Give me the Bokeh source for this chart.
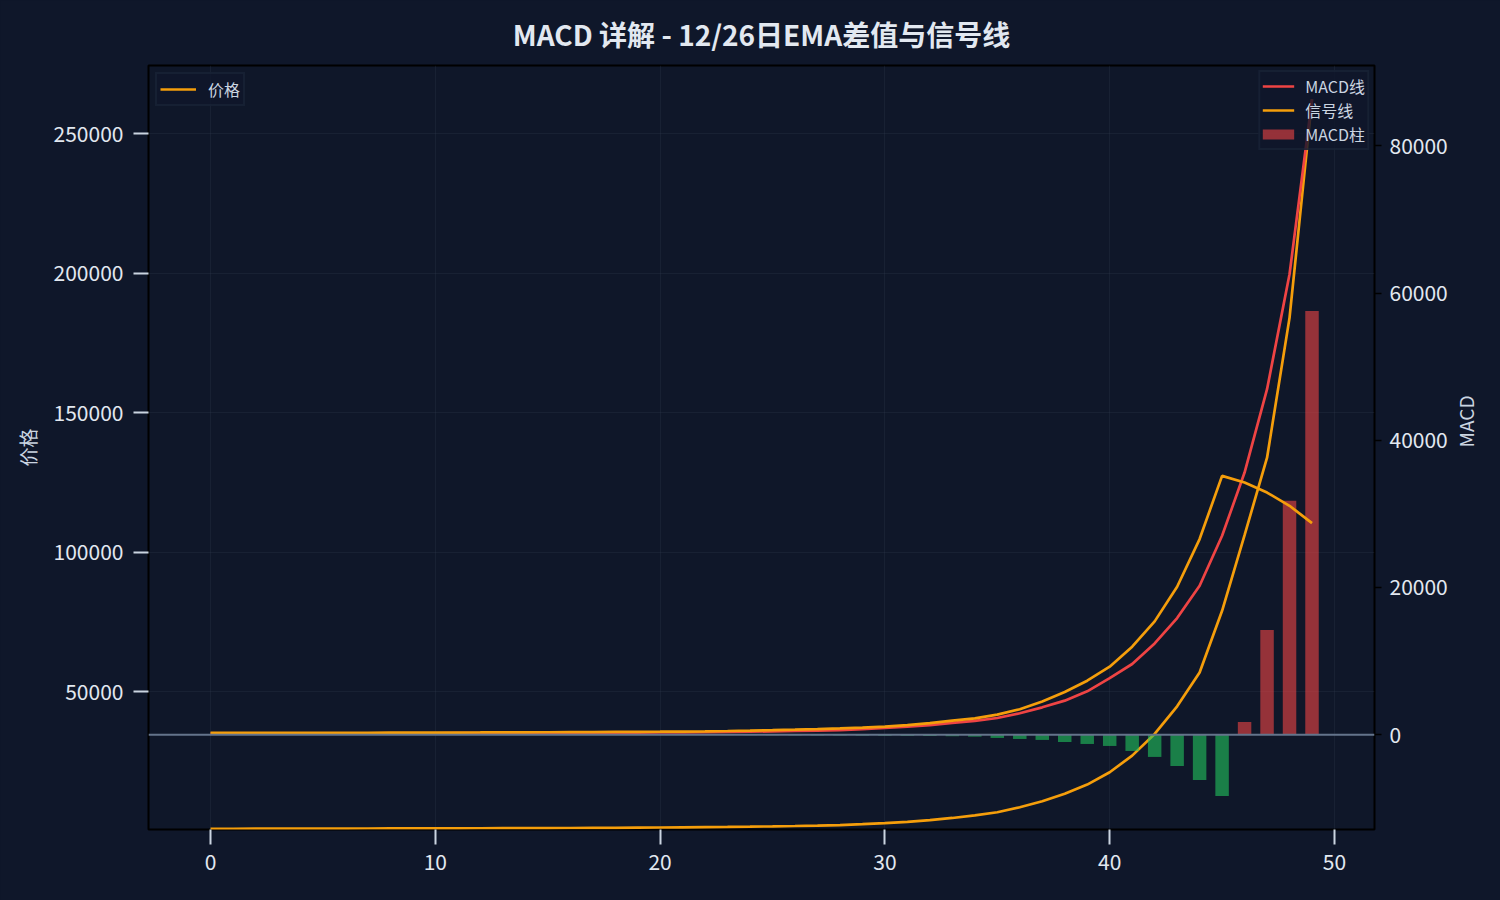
import math
import numpy as np
from bokeh.plotting import figure
from bokeh.models import (ColumnDataSource, Range1d, LinearAxis, FixedTicker,
                          BasicTickFormatter, Span, Legend, LegendItem,
                          GlobalInlineStyleSheet)
from bokeh.embed import file_html
from bokeh.resources import INLINE

# ---------------- data ----------------
days = list(range(50))

price = [967, 985, 1000, 1015, 1030, 1045, 1060, 1075, 1090, 1105,
         1120, 1140, 1160, 1180, 1205, 1230, 1260, 1295, 1335, 1380,
         1430, 1490, 1560, 1640, 1730, 1840, 1970, 2120, 2300, 2620,
         2970, 3450, 4100, 4850, 5750, 6910, 8700, 10850, 13500, 16820,
         21225, 27200, 34970, 44850, 57010, 79100, 106200, 133960, 184070, 262350]

macd_line = [150, 152, 155, 158, 161, 165, 169, 173, 178, 183,
             189, 195, 202, 210, 218, 227, 237, 248, 260, 274,
             290, 310, 335, 365, 400, 440, 490, 550, 620, 750,
             920, 1080, 1300, 1590, 1860, 2260, 2900, 3710, 4620, 5890,
             7690, 9600, 12400, 15840, 20230, 27020, 35620, 46950, 62570, 86330]

signal_line = [230, 233, 236, 240, 244, 248, 253, 258, 264, 270,
               277, 285, 293, 302, 312, 323, 335, 348, 362, 378,
               395, 420, 450, 490, 540, 600, 670, 750, 840, 960,
               1090, 1280, 1560, 1900, 2220, 2720, 3450, 4500, 5800, 7330,
               9230, 11950, 15390, 20100, 26580, 35170, 34260, 32900, 31100, 28750]

macd_hist = [-5, -5, -6, -7, -8, -9, -10, -11, -12, -13,
             -15, -16, -18, -20, -22, -25, -28, -31, -35, -39,
             -44, -50, -56, -63, -71, -80, -90, -100, -112, -125,
             -140, -160, -185, -215, -270, -450, -590, -720, -1000, -1270,
             -1540, -2220, -3030, -4260, -6160, -8330, 1720, 14220, 31780, 57580]

x_ticks = [0, 10, 20, 30, 40, 50]
price_ticks = [50000, 100000, 150000, 200000, 250000]
macd_ticks = [0, 20000, 40000, 60000, 80000]

# ---------------- style ----------------
FONT = "Noto Sans CJK SC"
BG = "#0f172a"
PLOT_BG = "#0f1729"
ORANGE = "#f59e0b"
RED = "#ef4444"
GREEN = "#22c55e"
TXT = "#e2e8f0"
TXT2 = "#cbd5e1"

bar_colors = [GREEN if v < 0 else RED for v in macd_hist]

src = ColumnDataSource(dict(x=days, price=price, macd=macd_line,
                            signal=signal_line, hist=macd_hist, color=bar_colors))

p = figure(width=1500, height=900, output_backend="svg", toolbar_location=None,
           x_range=Range1d(-2.76, 51.78), y_range=Range1d(717, 274510),
           min_border_left=148, min_border_right=126,
           min_border_top=64, min_border_bottom=71,
           background_fill_color=PLOT_BG, border_fill_color=BG,
           outline_line_color="black", outline_line_width=2,
           title="MACD 详解 - 12/26日EMA差值与信号线")
p.extra_y_ranges = {"macd": Range1d(-12894, 90940)}
p.stylesheets = [GlobalInlineStyleSheet(css="html, body { background: #0f172a; }")]

p.title.text_font = FONT
p.title.text_font_size = "28px"
p.title.text_font_style = "bold"
p.title.text_color = TXT
p.title.align = "center"
p.title.standoff = 23

# axes
p.xaxis.ticker = FixedTicker(ticks=x_ticks)
p.yaxis.ticker = FixedTicker(ticks=price_ticks)
p.yaxis.formatter = BasicTickFormatter(use_scientific=False)
p.yaxis.axis_label = "价格"

ax_r = LinearAxis(y_range_name="macd", ticker=FixedTicker(ticks=macd_ticks),
                  formatter=BasicTickFormatter(use_scientific=False),
                  axis_label="MACD")
if "axis_label_orientation" in LinearAxis.properties():
    # read bottom-to-top, like the left axis title
    ax_r.axis_label_orientation = math.pi / 2
p.add_layout(ax_r, "right")

for ax in (p.xaxis[0], p.yaxis[0], ax_r):
    ax.axis_line_color = None
    ax.major_tick_in = 0
    ax.major_tick_out = 15
    ax.major_tick_line_width = 2
    ax.major_tick_line_color = TXT2
    ax.minor_tick_line_color = None
    ax.major_label_text_font = FONT
    ax.major_label_text_font_size = "21px"
    ax.major_label_text_color = TXT
    ax.major_label_standoff = 9
    ax.axis_label_text_font = FONT
    ax.axis_label_text_font_size = "19px"
    ax.axis_label_text_font_style = "normal"
    ax.axis_label_text_color = TXT2
p.yaxis.major_label_standoff = 10
p.yaxis.axis_label_standoff = 10

# right axis: short dark ticks
ax_r.major_tick_out = 7
ax_r.major_tick_line_width = 1.5
ax_r.major_tick_line_color = "black"
ax_r.major_label_standoff = 8
ax_r.axis_label_standoff = 15
ax_r.axis_label_text_align = "center"

p.xgrid.grid_line_color = "#334155"
p.xgrid.grid_line_alpha = 0.25
p.ygrid.grid_line_color = "#334155"
p.ygrid.grid_line_alpha = 0.25

# glyphs
r_price = p.line("x", "price", source=src, line_color=ORANGE, line_width=2.7)
r_bar = p.vbar(x="x", top="hist", bottom=0, width=0.6, source=src,
               fill_color="color", fill_alpha=0.6, line_color=None,
               y_range_name="macd")
zero = Span(location=0, dimension="width", y_range_name="macd",
            line_color="#64748b", line_width=2)
p.add_layout(zero)
r_macd = p.line("x", "macd", source=src, line_color=RED, line_width=2.7,
                y_range_name="macd")
r_sig = p.line("x", "signal", source=src, line_color=ORANGE, line_width=2.7,
               y_range_name="macd")
# legend proxy for the histogram (nothing is drawn in the plot)
proxy_src = ColumnDataSource(dict(x=np.array([np.nan]), y=np.array([np.nan])))
r_leg = p.line("x", "y", source=proxy_src, line_color=RED, line_alpha=0.6,
               line_width=10, y_range_name="macd")


def style_legend(lg):
    lg.label_text_font = FONT
    lg.label_text_font_size = "16px"
    lg.label_text_color = TXT2
    lg.background_fill_color = BG
    lg.background_fill_alpha = 0.8
    lg.border_line_color = "#1e293b"
    lg.border_line_width = 2
    lg.margin = 7
    lg.padding = 1
    lg.spacing = 0
    lg.glyph_height = 20
    lg.label_height = 20
    lg.label_standoff = 11


leg_l = Legend(items=[LegendItem(label="价格", renderers=[r_price])],
               location="top_left")
style_legend(leg_l)
leg_l.glyph_width = 36
leg_l.padding = 3
leg_l.label_standoff = 12

leg_r = Legend(items=[LegendItem(label="MACD线", renderers=[r_macd]),
                      LegendItem(label="信号线", renderers=[r_sig]),
                      LegendItem(label="MACD柱", renderers=[r_leg])],
               location="top_right")
style_legend(leg_r)
leg_r.glyph_width = 32
leg_r.margin = 5
leg_r.padding = 2

p.add_layout(leg_l)
p.add_layout(leg_r)

open("out.html", "w").write(file_html(p, INLINE))
